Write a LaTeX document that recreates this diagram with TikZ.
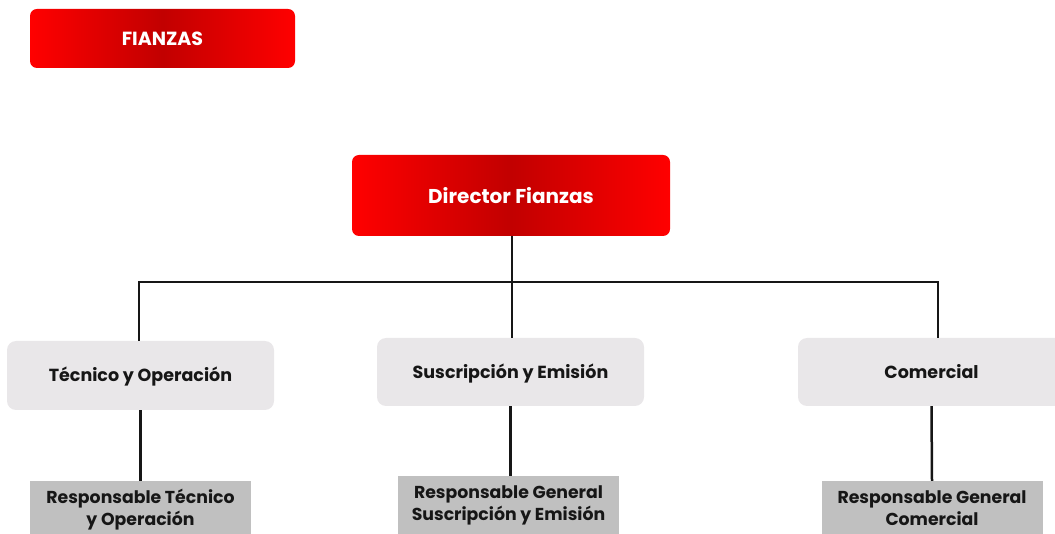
\documentclass[tikz,border=0pt]{standalone}
\usepackage{fontspec}
\setmainfont{Poppins}
\begin{document}
\begin{tikzpicture}[x=1pt,y=-1pt,
  redbox/.style={rounded corners=7pt, left color=red, right color=red, middle color=red!76!black, text=white, font=\bfseries, inner sep=0pt},
  graybox/.style={rounded corners=9pt, fill=grayfill, text=txt, font=\bfseries\fontsize{17.5}{21}\selectfont, inner sep=0pt, minimum width=267pt, text height=17pt, text depth=4pt},
  respbox/.style={fill=respfill, text=txt, font=\bfseries\fontsize{17.3}{22}\selectfont, align=center, inner sep=0pt, minimum width=221pt, minimum height=58pt},
  conn/.style={line width=2.5pt, draw=txt}]
\definecolor{grayfill}{HTML}{E9E7E9}
\definecolor{respfill}{HTML}{C0C0C0}
\definecolor{txt}{HTML}{161616}
\useasboundingbox (0,0) rectangle (1055,534);
\clip (0,0) rectangle (1055,534);
\node[redbox, minimum width=265pt, minimum height=59pt, font=\bfseries\fontsize{19}{22}\selectfont] (fz) at (162.5,38.5) {FIANZAS};
\node[redbox, minimum width=318pt, minimum height=81pt, font=\bfseries\fontsize{20}{24}\selectfont] (dir) at (511,195.5) {Director Fianzas};
\node[graybox, minimum height=69pt] (tec) at (140.5,375.5) {Técnico y Operación};
\node[graybox, minimum height=68pt] (sus) at (510.5,372) {Suscripción y Emisión};
\node[graybox, minimum height=68pt] (com) at (931.5,372) {Comercial};
\node[respbox] (r1) at (140.5,510) {Responsable Técnico\\y Operación};
\node[respbox] (r2) at (508.5,505) {Responsable General\\Suscripción y Emisión};
\node[respbox] (r3) at (932,510) {Responsable General\\Comercial\vphantom{y}};
\coordinate (j1) at (139,282);
\coordinate (j2) at (512,282);
\coordinate (j3) at (938,282);
\draw[conn] (dir.south -| j2) -- (j2);
\draw[conn, line cap=rect] (j1) -- (j3);
\draw[conn] (j1) -- (j1 |- tec.north);
\draw[conn] (j2) -- (j2 |- sus.north);
\draw[conn] (j3) -- (j3 |- com.north);
\draw[conn] (tec.south) -- (r1.north);
\draw[conn] (sus.south) -- (r2.north -| sus.south);
\draw[conn] (com.south) -- (r3.north);
\end{tikzpicture}
\end{document}
